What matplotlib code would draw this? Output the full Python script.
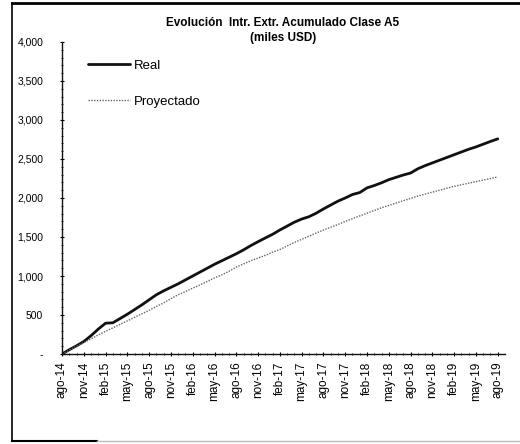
import matplotlib
matplotlib.use("Agg")
import matplotlib.pyplot as plt
from matplotlib.lines import Line2D
from matplotlib.ticker import MultipleLocator, FuncFormatter

# ---- data ----
months_es = ["ene", "feb", "mar", "abr", "may", "jun", "jul", "ago", "sep", "oct", "nov", "dic"]
start_year = 14
start_month = 8  # ago-14
n_months = 61

real = [0, 55, 105, 160, 235, 320, 395, 400, 455, 510,
        570, 630, 695, 760, 810, 855, 900, 950, 1000, 1050,
        1100, 1150, 1195, 1240, 1285, 1335, 1390, 1440, 1488, 1535,
        1590, 1640, 1690, 1730, 1760, 1805, 1860, 1910, 1960, 2000,
        2045, 2070, 2130, 2160, 2195, 2235, 2265, 2295, 2320, 2375,
        2415, 2450, 2485, 2520, 2555, 2590, 2625, 2655, 2690, 2725, 2758]

proyectado = [0, 50, 100, 145, 195, 245, 290, 335, 380, 425,
              470, 515, 560, 610, 655, 710, 760, 800, 845, 885,
              930, 975, 1015, 1060, 1115, 1155, 1195, 1230, 1265, 1305,
              1340, 1385, 1430, 1470, 1510, 1550, 1590, 1625, 1660, 1700,
              1735, 1770, 1805, 1840, 1875, 1905, 1935, 1965, 1995, 2025,
              2050, 2075, 2100, 2125, 2150, 2170, 2190, 2210, 2230, 2250, 2270]

def month_label(i):
    m = (start_month - 1 + i) % 12
    y = start_year + (start_month - 1 + i) // 12
    return f"{months_es[m]}-{y:02d}"

x = list(range(n_months))
tick_pos = list(range(0, n_months, 3))
tick_labels = [month_label(i) for i in tick_pos]

title_line1 = "Evolución  Intr. Extr. Acumulado Clase A5"
title_line2 = "(miles USD)"

# ---- figure ----
plt.rcParams['font.family'] = ['Liberation Sans', 'DejaVu Sans']
W, H = 520, 444
fig = plt.figure(figsize=(W / 100, H / 100), dpi=100)
ax = fig.add_axes([62 / W, 1 - 354 / H, (505 - 62) / W, (354 - 42) / H])

ax.plot(x, real, color='#111111', lw=2.0, label='Real', solid_capstyle='round')
ax.plot(x, proyectado, color='#666666', lw=1.0, ls=(0, (1, 1)), label='Proyectado')

ax.set_xlim(0, 61)
ax.set_ylim(0, 4000)

for s in ['top', 'right']:
    ax.spines[s].set_visible(False)
for s in ['left', 'bottom']:
    ax.spines[s].set_linewidth(1.0)
    ax.spines[s].set_color('#111111')

ax.yaxis.set_major_locator(MultipleLocator(500))
ax.yaxis.set_minor_locator(MultipleLocator(100))
ax.yaxis.set_major_formatter(FuncFormatter(lambda v, p: "-" if v == 0 else f"{int(v):,}"))
ax.set_xticks(tick_pos)
ax.set_xticklabels(tick_labels, rotation=90, fontsize=8.5)
ax.set_xticks(x, minor=True)
ax.tick_params(axis='y', which='major', labelsize=7.5, length=3, direction='inout', width=0.8, pad=12)
ax.tick_params(axis='y', which='minor', length=2, direction='inout', width=0.6)
ax.tick_params(axis='x', which='major', length=3, direction='inout', width=0.8, pad=4)
ax.tick_params(axis='x', which='minor', length=2, direction='inout', width=0.6)

leg = ax.legend(loc='upper left', bbox_to_anchor=(76 / W, 1 - 48 / H),
                bbox_transform=fig.transFigure, frameon=False, fontsize=9.5,
                handlelength=3.2, handletextpad=0.3, labelspacing=1.8)

fig.text(283 / W, 1 - 23 / H, title_line1, ha='center', va='center',
         fontsize=8.5, fontweight='bold')
fig.text(283 / W, 1 - 38 / H, title_line2, ha='center', va='center',
         fontsize=8.5, fontweight='bold')

# outer frame
tf = fig.transFigure
fig.add_artist(Line2D([12 / W, 1], [1 - 3 / H, 1 - 3 / H], transform=tf, color='black', lw=2))
fig.add_artist(Line2D([12 / W, 12 / W], [1 - 3 / H, 1 - 441 / H], transform=tf, color='black', lw=1.2))
fig.add_artist(Line2D([12 / W, 97 / W], [1 - 441 / H, 1 - 441 / H], transform=tf, color='black', lw=1.5))
fig.add_artist(Line2D([97 / W, 1], [1 - 441 / H, 1 - 441 / H], transform=tf, color='#bbbbbb', lw=1.0))

fig.savefig("out.png", dpi=100)
